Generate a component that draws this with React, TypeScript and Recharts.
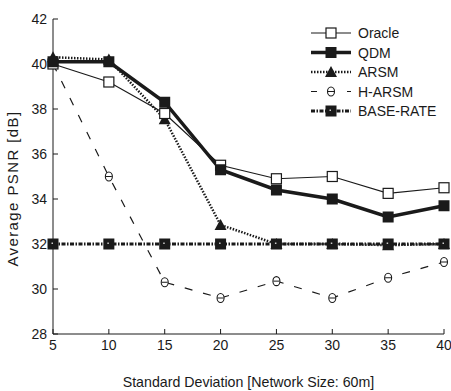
import React from "react";
import { LineChart, Line, XAxis, YAxis } from "recharts";

const deviation = [5, 10, 15, 20, 25, 30, 35, 40];
const oracle = [40.0, 39.2, 37.8, 35.5, 34.9, 35.0, 34.25, 34.5];
const qdm = [40.1, 40.1, 38.3, 35.3, 34.4, 34.0, 33.2, 33.7];
const arsm = [40.3, 40.2, 37.55, 32.85, 32.0, 32.0, 31.95, 32.0];
const harsm = [40.0, 35.0, 30.3, 29.6, 30.35, 29.6, 30.5, 31.2];
const baseRate = [32, 32, 32, 32, 32, 32, 32, 32];

const yTicks = [28, 30, 32, 34, 36, 38, 40, 42];

const data = deviation.map((d, i) => ({
  sd: d,
  oracle: oracle[i],
  qdm: qdm[i],
  arsm: arsm[i],
  harsm: harsm[i],
  base: baseRate[i],
}));

const FONT = "'Liberation Sans', Arial, sans-serif";
const INK = "#1a1a1a";

const HollowSquare = (props: any) => {
  const { cx, cy } = props;
  return <rect x={cx - 5} y={cy - 5} width={10} height={10} fill="#fff" stroke={INK} strokeWidth={1.2} />;
};

const FilledSquare = (props: any) => {
  const { cx, cy } = props;
  return <rect x={cx - 5.5} y={cy - 5.5} width={11} height={11} fill={INK} />;
};

const Triangle = (props: any) => {
  const { cx, cy } = props;
  return <path d={`M${cx},${cy - 6} L${cx + 6},${cy + 5} L${cx - 6},${cy + 5} Z`} fill={INK} />;
};

const ThetaCircle = (props: any) => {
  const { cx, cy } = props;
  return (
    <g>
      <ellipse cx={cx} cy={cy} rx={3.5} ry={4.5} fill="#fff" stroke={INK} strokeWidth={1.1} />
      <line x1={cx - 3} y1={cy} x2={cx + 3} y2={cy} stroke={INK} strokeWidth={1} />
    </g>
  );
};

const BaseSquare = (props: any) => {
  const { cx, cy } = props;
  return (
    <g>
      <rect x={cx - 5.5} y={cy - 5.5} width={11} height={11} fill={INK} />
      <rect x={cx - 1.5} y={cy - 1.5} width={1.5} height={1.5} fill="#ccc" />
    </g>
  );
};

const legendItems = [
  { name: "Oracle", width: 1.2, dash: undefined as string | undefined, Marker: HollowSquare },
  { name: "QDM", width: 3.5, dash: undefined, Marker: FilledSquare },
  { name: "ARSM", width: 2.5, dash: "1.5 1.5", Marker: Triangle },
  { name: "H-ARSM", width: 1.2, dash: "6 30", Marker: ThetaCircle },
  { name: "BASE-RATE", width: 3, dash: "4 1.5 1.5 1.5", Marker: BaseSquare },
];

const renderLegend = () => (
  <g>
    {legendItems.map((it, i) => {
      const y = 33 + i * 19.5;
      const M = it.Marker;
      return (
        <g key={it.name}>
          <line x1={311} x2={351} y1={y} y2={y} stroke={INK} strokeWidth={it.width} strokeDasharray={it.dash} />
          <M cx={331} cy={y} />
          <text x={358} y={y + 5} fontSize={14} fill={INK} fontFamily={FONT}>
            {it.name}
          </text>
        </g>
      );
    })}
  </g>
);

export default function App() {
  return (
    <div style={{ position: "absolute", left: 0, top: 0, background: "#fff" }}>
      <LineChart
        width={451}
        height={391}
        data={data}
        margin={{ top: 19, right: 7, left: 0, bottom: 0 }}
        style={{ fontFamily: FONT }}
      >
        <XAxis
          dataKey="sd"
          type="number"
          domain={[5, 40]}
          ticks={deviation}
          height={57}
          stroke={INK}
          tickSize={-5}
          tickMargin={11}
          tick={{ fill: INK, fontSize: 14 }}
          label={{ value: "Standard Deviation [Network Size: 60m]", position: "insideBottom", offset: 4, fill: INK, fontSize: 14.2 }}
        />
        <YAxis
          type="number"
          domain={[28, 42]}
          ticks={yTicks}
          width={53}
          stroke={INK}
          tickSize={-5}
          tickMargin={11}
          tick={{ fill: INK, fontSize: 14 }}
          label={{ value: "Average PSNR [dB]", angle: -90, position: "insideLeft", offset: 13, dy: 12, fill: INK, fontSize: 15, style: { textAnchor: "middle", letterSpacing: 1.4 } }}
        />
        <Line dataKey="harsm" stroke={INK} strokeWidth={1.2} strokeDasharray="8 11" dot={<ThetaCircle />} isAnimationActive={false} />
        <Line dataKey="arsm" stroke={INK} strokeWidth={2.5} strokeDasharray="1.5 1.5" dot={<Triangle />} isAnimationActive={false} />
        <Line dataKey="base" stroke={INK} strokeWidth={3} strokeDasharray="4 1.5 1.5 1.5" dot={<BaseSquare />} isAnimationActive={false} />
        <Line dataKey="oracle" stroke={INK} strokeWidth={1.2} dot={<HollowSquare />} isAnimationActive={false} />
        <Line dataKey="qdm" stroke={INK} strokeWidth={3.5} dot={<FilledSquare />} isAnimationActive={false} />
        {renderLegend()}
      </LineChart>
    </div>
  );
}
